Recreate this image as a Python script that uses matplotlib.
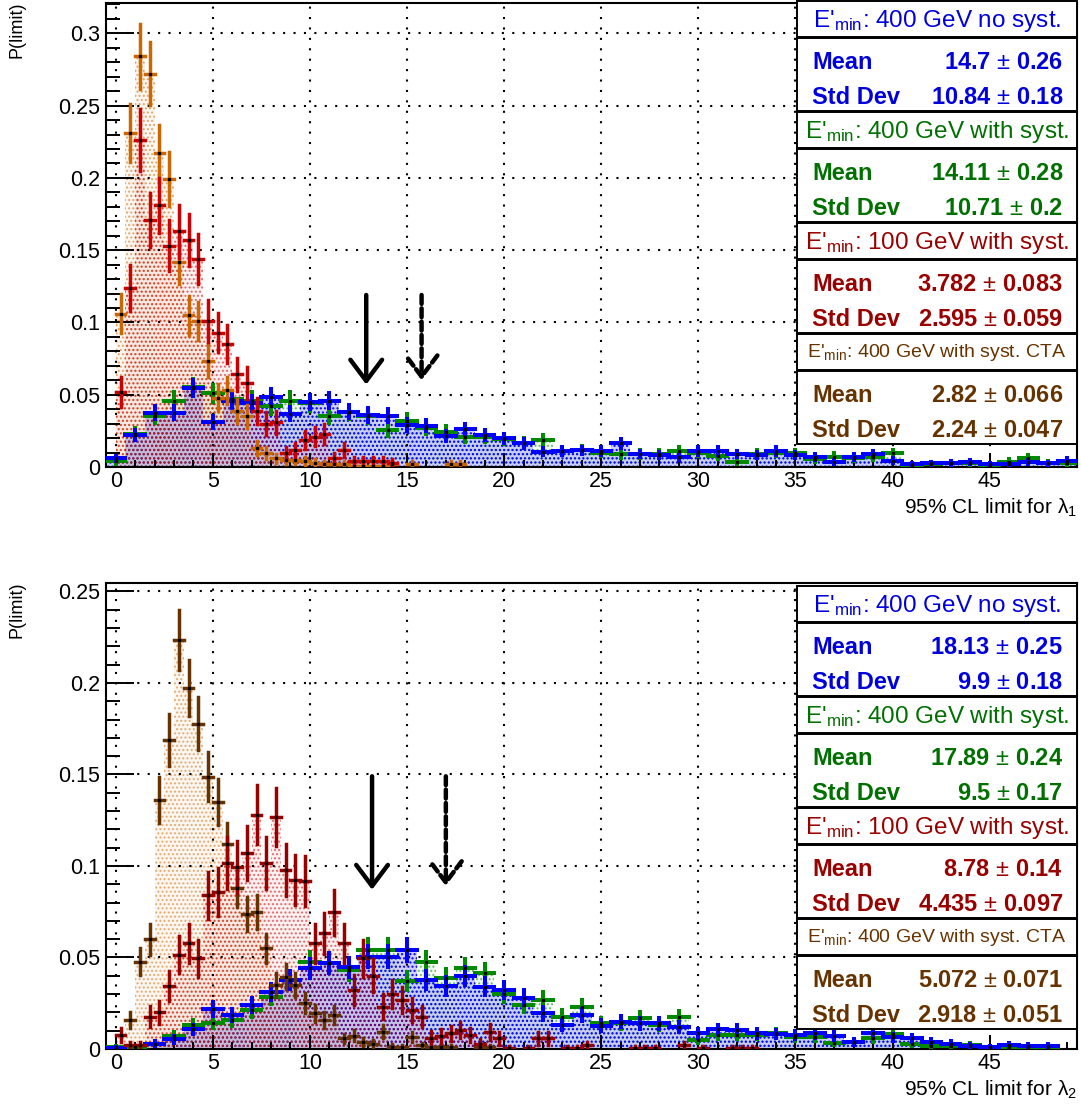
import numpy as np
import matplotlib
matplotlib.use("Agg")
import matplotlib.pyplot as plt
from matplotlib.colors import to_rgba
from matplotlib.patches import Rectangle, FancyArrowPatch
from matplotlib.ticker import MultipleLocator

plt.rcParams['font.family'] = ['Liberation Sans', 'DejaVu Sans']
plt.rcParams['mathtext.fontset'] = 'custom'
plt.rcParams['mathtext.rm'] = 'Liberation Sans'
plt.rcParams['mathtext.it'] = 'Liberation Sans:italic'
plt.rcParams['mathtext.bf'] = 'Liberation Sans:bold'
plt.rcParams['hatch.linewidth'] = 1.0

W, H = 1081, 1110

# ---------------- data: top panel (lambda_1) ----------------
# 1-wide bins centred on 0..49
top_blue = [0.006, 0.022, 0.0376, 0.0376, 0.0545, 0.031, 0.046, 0.044, 0.0487, 0.037,
            0.045, 0.046, 0.0383, 0.036, 0.0355, 0.029, 0.0287, 0.0215, 0.026, 0.022,
            0.0198, 0.0164, 0.0106, 0.011, 0.0115, 0.011, 0.0164, 0.009, 0.0085, 0.007,
            0.011, 0.011, 0.009, 0.0085, 0.011, 0.0083, 0.0067, 0.0037, 0.0067, 0.009,
            0.0044, 0.002, 0.0025, 0.003, 0.0037, 0.002, 0.002, 0.0037, 0.0025, 0.0044]
top_green = [0.004, 0.023, 0.035, 0.046, 0.055, 0.051, 0.047, 0.046, 0.042, 0.046,
             0.044, 0.035, 0.038, 0.035, 0.0256, 0.032, 0.027, 0.024, 0.021, 0.021,
             0.0195, 0.0164, 0.0185, 0.011, 0.0115, 0.010, 0.009, 0.009, 0.009, 0.011,
             0.010, 0.0075, 0.0037, 0.009, 0.010, 0.0095, 0.0053, 0.0072, 0.006, 0.0067,
             0.0095, 0.0014, 0.002, 0.003, 0.003, 0.0007, 0.0037, 0.006, 0.0025, 0.003]
# 0.5-wide bins starting at 0
top_red = [0.052, 0.124, 0.226, 0.171, 0.181, 0.153, 0.163, 0.157, 0.144, 0.101,
           0.093, 0.085, 0.064, 0.058, 0.039, 0.030, 0.031, 0.0097, 0.012, 0.019,
           0.021, 0.023, 0.006, 0.012, 0.004, 0.004, 0.004, 0.004, 0.003]
top_orange = [0.106, 0.231, 0.284, 0.272, 0.217, 0.199, 0.142, 0.105, 0.101, 0.0736,
              0.048, 0.053, 0.039, 0.035, 0.013, 0.0097, 0.006, 0.005, 0.005, 0.004,
              0.003, 0.002, 0.002, 0.002, 0.001, 0.001, 0.001, 0.001, 0.002, 0.0,
              0.002, 0.0, 0.0, 0.0, 0.002, 0.002]
top_arrow_x = [12.9, 15.75]
top_arrow_y0 = [0.119, 0.119]
top_arrow_y1 = [0.057, 0.060]

# ---------------- data: bottom panel (lambda_2) ----------------
bot_blue = [0.0004, 0.0, 0.003, 0.0053, 0.0107, 0.022, 0.0186, 0.024, 0.031, 0.0377,
            0.044, 0.0468, 0.0446, 0.0505, 0.0505, 0.054, 0.0377, 0.0344, 0.040, 0.034,
            0.0322, 0.028, 0.0195, 0.0131, 0.0186, 0.0128, 0.015, 0.014, 0.014, 0.0122,
            0.0086, 0.0107, 0.0104, 0.0086, 0.0082, 0.0075, 0.0086, 0.007, 0.004, 0.0086,
            0.0064, 0.0058, 0.004, 0.003, 0.0016, 0.0009, 0.0022, 0.0016, 0.0016, 0.0]
bot_green = [0.001, 0.001, 0.003, 0.007, 0.013, 0.0144, 0.016, 0.0213, 0.0286, 0.0377,
             0.0477, 0.0468, 0.0432, 0.054, 0.054, 0.0373, 0.0477, 0.0386, 0.044, 0.0413,
             0.030, 0.024, 0.027, 0.0177, 0.023, 0.014, 0.014, 0.0168, 0.0131, 0.0173,
             0.0049, 0.0077, 0.0077, 0.0077, 0.0086, 0.0065, 0.0064, 0.0035, 0.004, 0.0058,
             0.008, 0.003, 0.0016, 0.0016, 0.0022, 0.0009, 0.0013, 0.0013, 0.0013, 0.0]
bot_red = [0.0077, 0.002, 0.002, 0.0177, 0.020, 0.0344, 0.0514, 0.0577, 0.0495, 0.084,
           0.086, 0.1015, 0.0996, 0.107, 0.128, 0.1015, 0.1266, 0.0978, 0.0923, 0.0918,
           0.0577, 0.0632, 0.0747, 0.0577, 0.0322, 0.0495, 0.040, 0.023, 0.030, 0.0268,
           0.0213, 0.0177, 0.0062, 0.0072, 0.0086, 0.0104, 0.0077, 0.003, 0.0095, 0.0058,
           0.0005, 0.0, 0.0005, 0.0058, 0.0058, 0.0, 0.0005, 0.0005, 0.002, 0.0,
           0.0, 0.0, 0.0, 0.0005, 0.0005, 0.0005, 0.0, 0.0, 0.002, 0.0,
           0.0005, 0.0, 0.0, 0.0005, 0.0005, 0.0005]
bot_brown = [0.0, 0.0158, 0.0477, 0.060, 0.136, 0.169, 0.2235, 0.197, 0.1776, 0.1488,
             0.135, 0.112, 0.0878, 0.0738, 0.0747, 0.055, 0.035, 0.0395, 0.035, 0.025,
             0.0195, 0.016, 0.0186, 0.0058, 0.0072, 0.004, 0.003, 0.0095, 0.0013, 0.001,
             0.0067, 0.002, 0.001, 0.001, 0.001, 0.0, 0.0, 0.001, 0.001]
bot_arrow_x = [13.2, 17.0]
bot_arrow_y0 = [0.149, 0.149]
bot_arrow_y1 = [0.087, 0.089]

# ---------------- stat boxes ----------------
box_titles = [r"E'$_{\mathrm{min}}$: 400 GeV no syst.",
              r"E'$_{\mathrm{min}}$: 400 GeV with syst.",
              r"E'$_{\mathrm{min}}$: 100 GeV with syst.",
              r"E'$_{\mathrm{min}}$: 400 GeV with syst. CTA"]
box_colors = ['#0000dd', '#007000', '#990000', '#663300']
top_mean = ["14.7", "14.11", "3.782", "2.82"]
top_mean_err = ["0.26", "0.28", "0.083", "0.066"]
top_sd = ["10.84", "10.71", "2.595", "2.24"]
top_sd_err = ["0.18", "0.2", "0.059", "0.047"]
bot_mean = ["18.13", "17.89", "8.78", "5.072"]
bot_mean_err = ["0.25", "0.24", "0.14", "0.071"]
bot_sd = ["9.9", "9.5", "4.435", "2.918"]
bot_sd_err = ["0.18", "0.17", "0.097", "0.051"]
# effective entries (from the mean errors) used for the bin errors
top_entries = [1740, 1460, 980, 1150]
bot_entries = [1570, 1570, 1000, 1690]

blue_c, green_c = '#0000ff', '#008a00'


def draw_fill(ax, values, start, width, color, alpha, hatch_alpha):
    v = np.asarray(values, float)
    edges = start + width * np.arange(len(v) + 1)
    ax.stairs(v, edges, fill=True, facecolor=to_rgba(color, alpha),
              edgecolor=to_rgba(color, hatch_alpha), hatch='....', linewidth=0, zorder=1)


def draw_errors(ax, values, start, width, entries, color, lw, z):
    v = np.asarray(values, float)
    c = start + width * (np.arange(len(v)) + 0.5)
    m = v > 0
    err = np.sqrt(v / (entries * width))
    ax.hlines(v[m], c[m] - width / 2, c[m] + width / 2, colors=color, lw=lw,
              capstyle='projecting', zorder=z)
    ax.vlines(c[m], v[m] - err[m], v[m] + err[m], colors=color, lw=lw,
              capstyle='projecting', zorder=z)
    ax.plot(c[m], v[m], 's', ms=1.4, color='k', zorder=z + 0.1)


def style_axes(ax, ymax, ymajor):
    ax.set_xlim(-0.5, 49.5)
    ax.set_ylim(0, ymax)
    ax.xaxis.set_major_locator(MultipleLocator(5))
    ax.xaxis.set_minor_locator(MultipleLocator(1))
    ax.yaxis.set_major_locator(MultipleLocator(ymajor))
    ax.yaxis.set_minor_locator(MultipleLocator(0.01))
    ax.tick_params(axis='both', which='both', direction='in', top=False, right=False,
                   labelsize=15.5, width=1.4)
    ax.tick_params(axis='x', which='major', length=10, pad=3)
    ax.tick_params(axis='x', which='minor', length=5)
    ax.tick_params(axis='y', which='major', length=20, pad=4)
    ax.tick_params(axis='y', which='minor', length=10)
    ax.yaxis.set_major_formatter(plt.FuncFormatter(lambda val, pos: f"{val:g}"))
    for s in ax.spines.values():
        s.set_linewidth(1.5)
    ax.grid(True, which='major', color='black', linestyle=(0, (1.0, 4.0)), linewidth=1.5)
    ax.set_axisbelow(False)


def draw_arrows(ax, xs, y0s, y1s):
    for i, (x, y0, y1) in enumerate(zip(xs, y0s, y1s)):
        arr = FancyArrowPatch((x, y0), (x, y1), arrowstyle='->,head_length=0.4,head_width=0.3',
                              mutation_scale=38, lw=3.2, color='black', shrinkA=0, shrinkB=0,
                              zorder=5, linestyle='-' if i == 0 else (0, (2, 1)))
        ax.add_patch(arr)


fig = plt.figure(figsize=(W / 100, H / 100), dpi=100)

panels = [
    dict(top=3, bottom=467, ymax=0.321, major=0.05,
         series=[(top_green, -0.5, 1.0, green_c, 0.05, 0.5, 2.9),
                 (top_blue, -0.5, 1.0, blue_c, 0.18, 1.0, 2.9),
                 (top_orange, 0.0, 0.5, '#cc6600', 0.06, 0.5, 2.5),
                 (top_red, 0.0, 0.5, '#cc0000', 0.06, 0.5, 2.5)],
         entries=[top_entries[1], top_entries[0], top_entries[3], top_entries[2]],
         arrows=(top_arrow_x, top_arrow_y0, top_arrow_y1),
         xlabel="95% CL limit for λ$_{1}$"),
    dict(top=583, bottom=1049, ymax=0.2546, major=0.05,
         series=[(bot_green, -0.5, 1.0, green_c, 0.05, 0.5, 2.9),
                 (bot_blue, -0.5, 1.0, blue_c, 0.18, 1.0, 2.9),
                 (bot_brown, 0.0, 0.5, '#d07010', 0.06, 0.5, 2.5),
                 (bot_red, 0.0, 0.5, '#cc0000', 0.06, 0.5, 2.5)],
         entries=[bot_entries[1], bot_entries[0], bot_entries[3], bot_entries[2]],
         arrows=(bot_arrow_x, bot_arrow_y0, bot_arrow_y1),
         xlabel="95% CL limit for λ$_{2}$"),
]
# bottom-panel crosses use the darker colours of the stat boxes
cross_colors = [[green_c, blue_c, '#cc6600', '#cc0000'],
                [green_c, blue_c, '#663300', '#990000']]

for p, ccols in zip(panels, cross_colors):
    ax = fig.add_axes([106 / W, 1 - p['bottom'] / H, 971 / W, (p['bottom'] - p['top']) / H])
    for vals, start, width, col, alpha, halpha, lw in p['series']:
        draw_fill(ax, vals, start, width, col, alpha, halpha)
    for (vals, start, width, col, alpha, halpha, lw), n, cc in zip(p['series'], p['entries'], ccols):
        draw_errors(ax, vals, start, width, n, cc, lw, 3)
    draw_arrows(ax, *p['arrows'])
    style_axes(ax, p['ymax'], p['major'])

# overlay in pixel coordinates for boxes and labels
ov = fig.add_axes([0, 0, 1, 1])
ov.set_xlim(0, W)
ov.set_ylim(H, 0)
ov.axis('off')

stats = [(1, top_mean, top_mean_err, top_sd, top_sd_err),
         (586, bot_mean, bot_mean_err, bot_sd, bot_sd_err)]
bx0, bx1 = 797, 1077
for y0, means, merrs, sds, serrs in stats:
    for i in range(4):
        b = y0 + 111 * i
        col = box_colors[i]
        ov.add_patch(Rectangle((bx0, b), bx1 - bx0, 36, facecolor='white',
                               edgecolor='black', lw=1.4, zorder=10))
        ov.add_patch(Rectangle((bx0, b + 37), bx1 - bx0, 73, facecolor='white',
                               edgecolor='black', lw=1.4, zorder=10))
        tsize = 14 if i == 3 else 17.5
        ty = b + 23 if i == 3 else b + 26
        ov.text((bx0 + bx1) / 2, ty, box_titles[i], color=col, fontsize=tsize,
                ha='center', va='baseline', zorder=11)
        for j, (lab, val, err) in enumerate([("Mean", means[i], merrs[i]),
                                             ("Std Dev", sds[i], serrs[i])]):
            yy = b + 37 + 31 + 35 * j
            ov.text(812, yy, lab, color=col, fontsize=17, fontweight='bold',
                    ha='left', va='baseline', zorder=11)
            ov.text(1063, yy, val + r" $\pm$ " + err, color=col, fontsize=17,
                    fontweight='bold', ha='right', va='baseline', zorder=11)

for p in panels:
    ov.text(1077, p['bottom'] + 47, p['xlabel'], fontsize=15, ha='right', va='baseline')
    ov.text(17, p['top'] - 1, "P(limit)", fontsize=13, rotation=90, ha='center', va='top')

fig.savefig("out.png", dpi=100)
